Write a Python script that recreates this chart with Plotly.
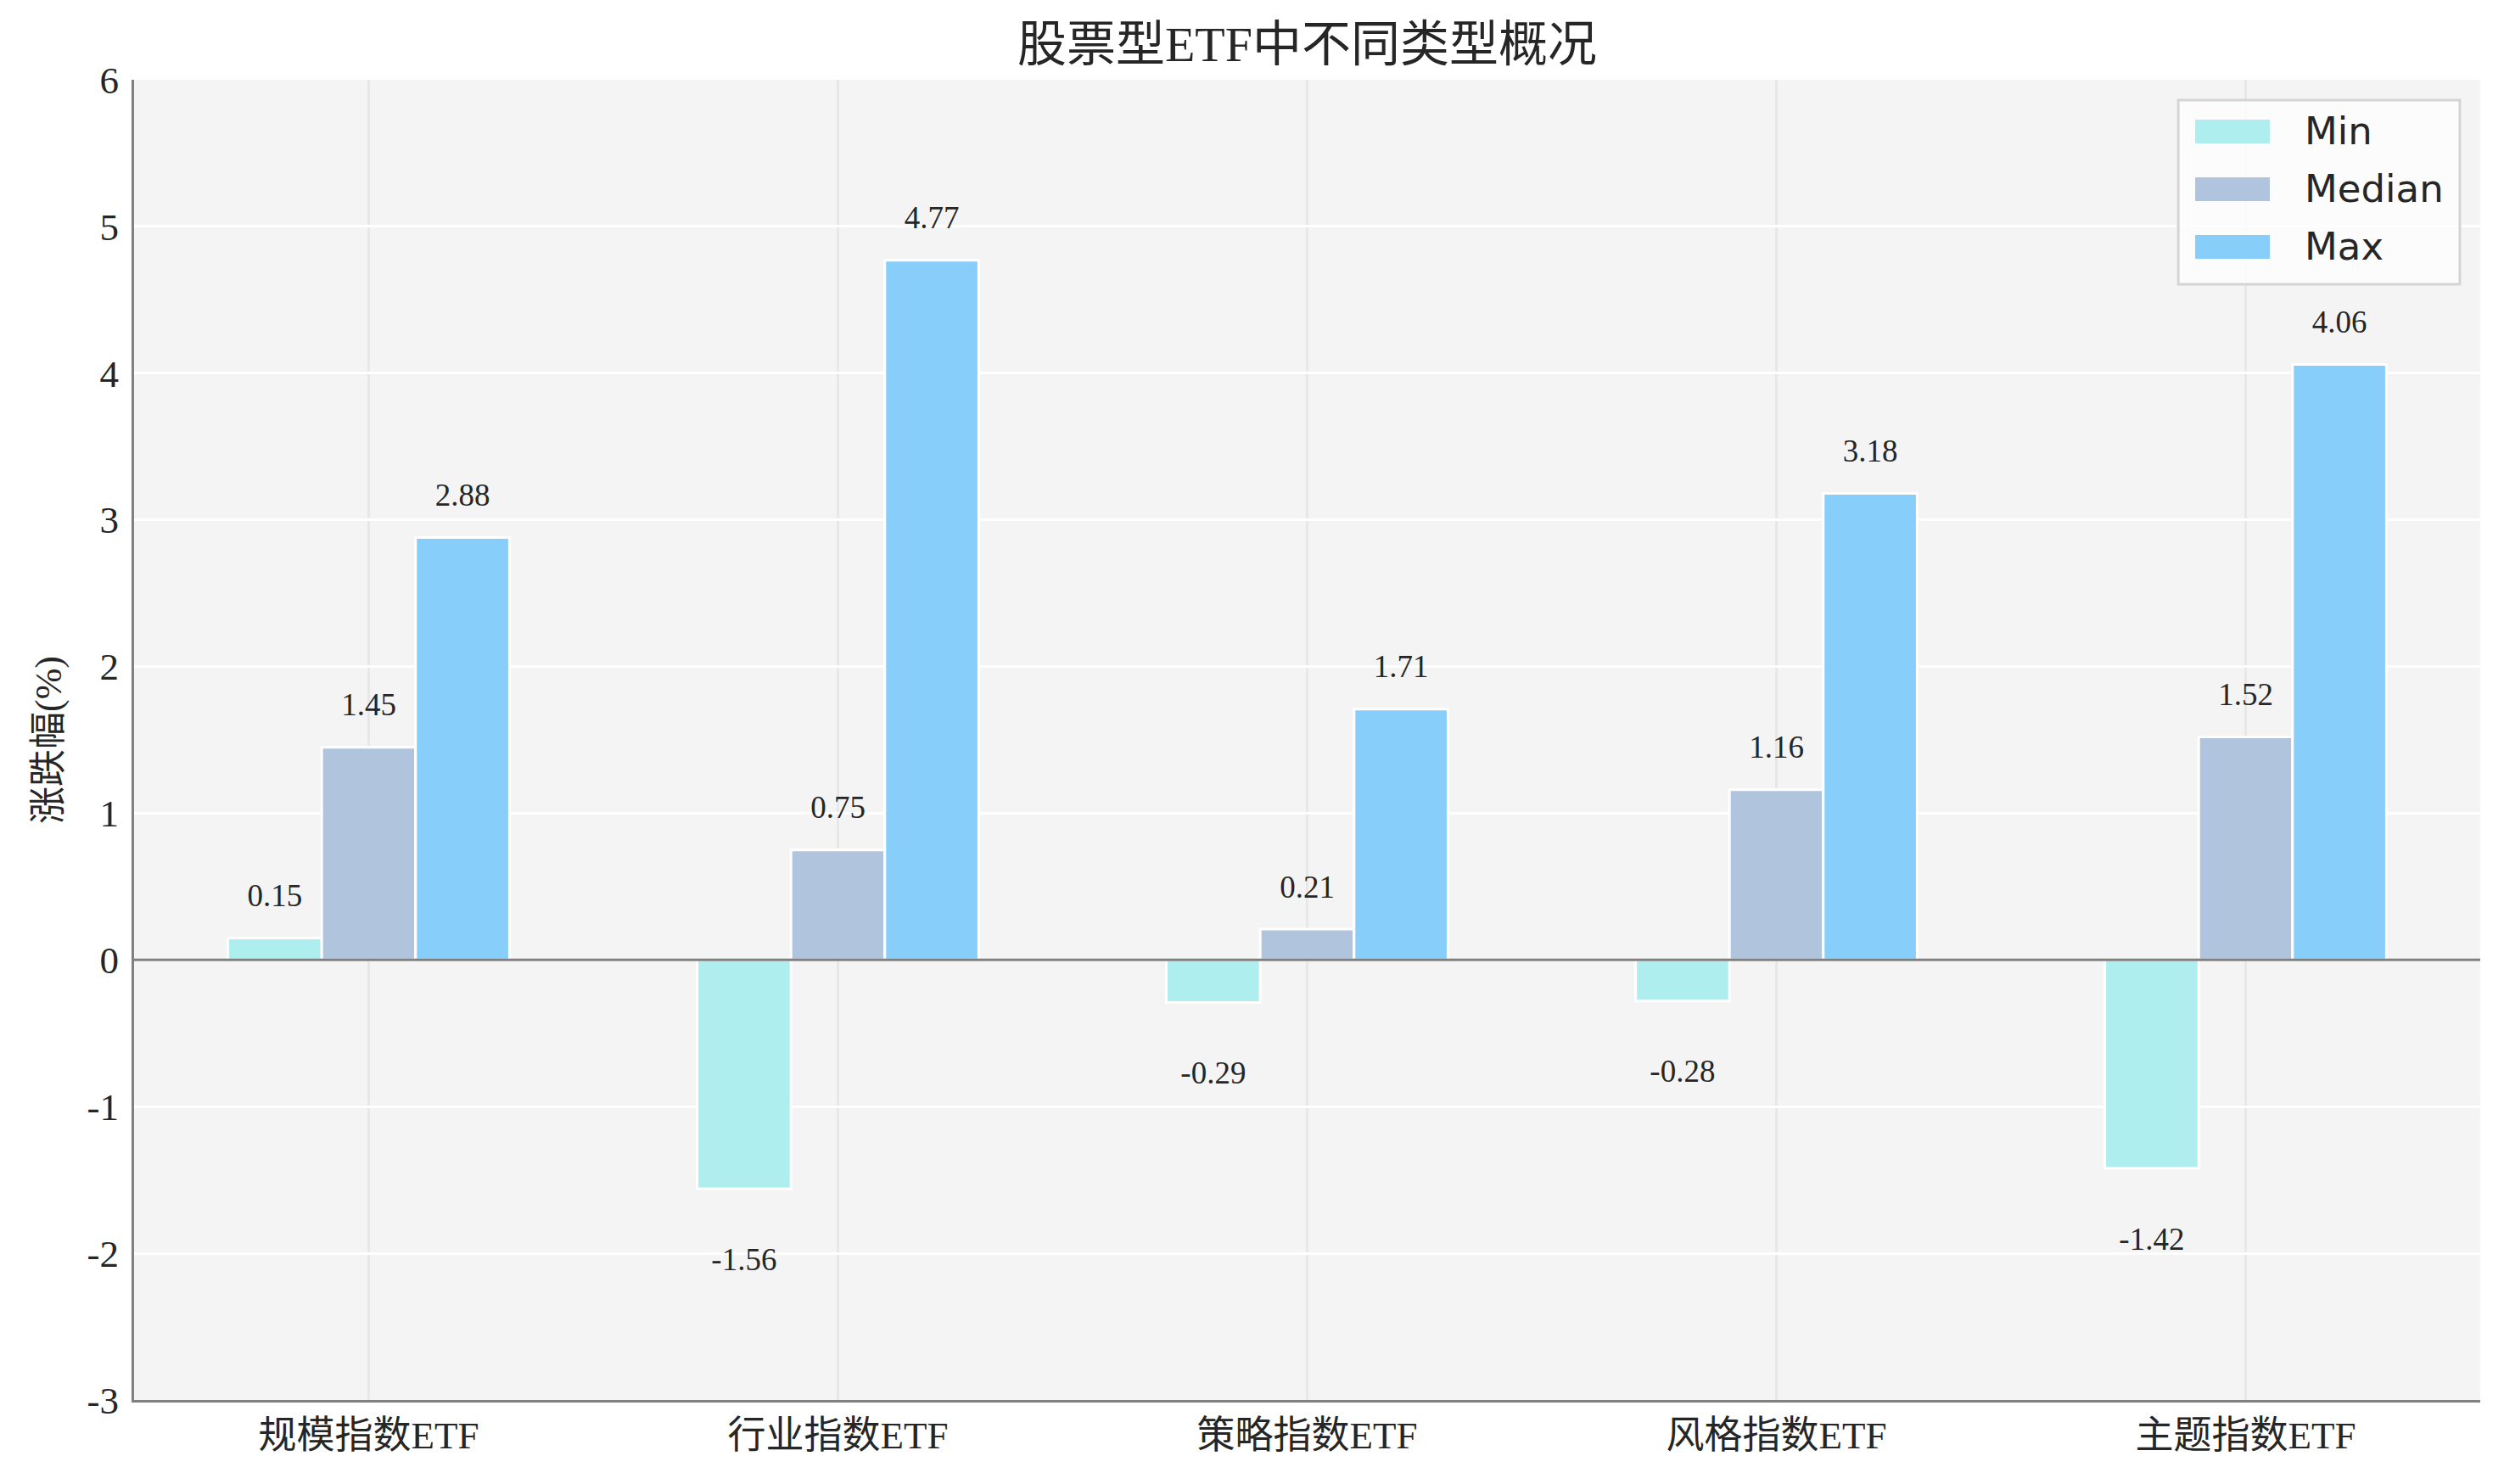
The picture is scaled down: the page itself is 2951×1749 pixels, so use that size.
import plotly.graph_objects as go

# 股票型ETF各类型涨跌幅
categorias = ["规模指数ETF", "行业指数ETF", "策略指数ETF", "风格指数ETF", "主题指数ETF"]
v_min = [0.15, -1.56, -0.29, -0.28, -1.42]
v_median = [1.45, 0.75, 0.21, 1.16, 1.52]
v_max = [2.88, 4.77, 1.71, 3.18, 4.06]
y_ticks = [-3, -2, -1, 0, 1, 2, 3, 4, 5, 6]

SERIES = [
    ("Min", v_min, "#AFEEEE"),
    ("Median", v_median, "#B0C4DE"),
    ("Max", v_max, "#87CEFA"),
]

FUENTE = "Liberation Serif, 'Noto Sans CJK SC', serif"
TEXTO = "#262626"
GRIS = "#808080"
ANCHO = 0.2

fig = go.Figure()

for k, (nombre, valores, color) in enumerate(SERIES):
    xs = [i + (k - 1) * ANCHO for i in range(len(categorias))]
    fig.add_trace(go.Bar(
        name=nombre,
        x=xs,
        y=valores,
        width=ANCHO,
        marker=dict(color=color, line=dict(color="white", width=3)),
        showlegend=False,
        hoverinfo="skip",
    ))
    # etiquetas: encima si positivo, debajo si negativo
    ys = [v + 0.27 if v >= 0 else v - 0.5 for v in valores]
    fig.add_trace(go.Scatter(
        x=xs,
        y=ys,
        mode="text",
        text=[f"{v:.2f}" for v in valores],
        textposition="middle center",
        textfont=dict(family=FUENTE, size=37, color=TEXTO),
        showlegend=False,
        hoverinfo="skip",
    ))

# línea del cero por encima de las barras
fig.add_hline(y=0, line=dict(color=GRIS, width=3), layer="above")

# leyenda dibujada a mano (muestras grandes como en matplotlib)
fig.add_shape(
    type="rect", xref="paper", yref="paper",
    x0=0.8713, x1=0.9913, y0=0.8451, y1=0.9846,
    fillcolor="rgba(253,253,253,0.85)", line=dict(color="#D4D4D4", width=3),
    layer="above",
)
filas_y = [0.9608, 0.9171, 0.8734]
for (nombre, _, color), fy in zip(SERIES, filas_y):
    fig.add_shape(
        type="rect", xref="paper", yref="paper",
        x0=0.8785, x1=0.9103, y0=fy - 0.009, y1=fy + 0.009,
        fillcolor=color, line=dict(width=0), layer="above",
    )
    fig.add_annotation(
        x=0.9245, y=fy, xref="paper", yref="paper",
        text=nombre, showarrow=False, xanchor="left", yanchor="middle",
        font=dict(family="DejaVu Sans, sans-serif", size=45, color=TEXTO),
    )

fig.update_layout(
    width=2935,
    height=1733,
    barmode="overlay",
    showlegend=False,
    paper_bgcolor="white",
    plot_bgcolor="#F4F4F4",
    margin=dict(l=150, r=20, t=86, b=91),
    font=dict(family=FUENTE, size=45, color=TEXTO),
    title=dict(
        text="股票型ETF中不同类型概况",
        font=dict(family=FUENTE, size=58, color=TEXTO),
        x=0.5, xref="paper", xanchor="center",
        y=1 - 44 / 1733, yref="container", yanchor="middle",
    ),
)

fig.update_xaxes(
    range=[-0.5, 4.5],
    tickvals=list(range(len(categorias))),
    ticktext=categorias,
    tickfont=dict(family=FUENTE, size=45, color=TEXTO),
    showgrid=True, gridcolor="#E8E8E8", gridwidth=3,
    showline=True, linecolor=GRIS, linewidth=3,
    zeroline=False,
    ticks="",
    automargin=False,
)

fig.update_yaxes(
    range=[-3, 6],
    tickvals=y_ticks,
    ticktext=[str(t) for t in y_ticks],
    tickfont=dict(family=FUENTE, size=45, color=TEXTO),
    showgrid=True, gridcolor="white", gridwidth=3,
    zeroline=False,
    showline=True, linecolor=GRIS, linewidth=3,
    ticks="",
    ticklabelstandoff=6,
    automargin=False,
    title=dict(text="涨跌幅(%)", font=dict(family=FUENTE, size=44, color=TEXTO), standoff=17),
)

fig.write_html("out.html")
